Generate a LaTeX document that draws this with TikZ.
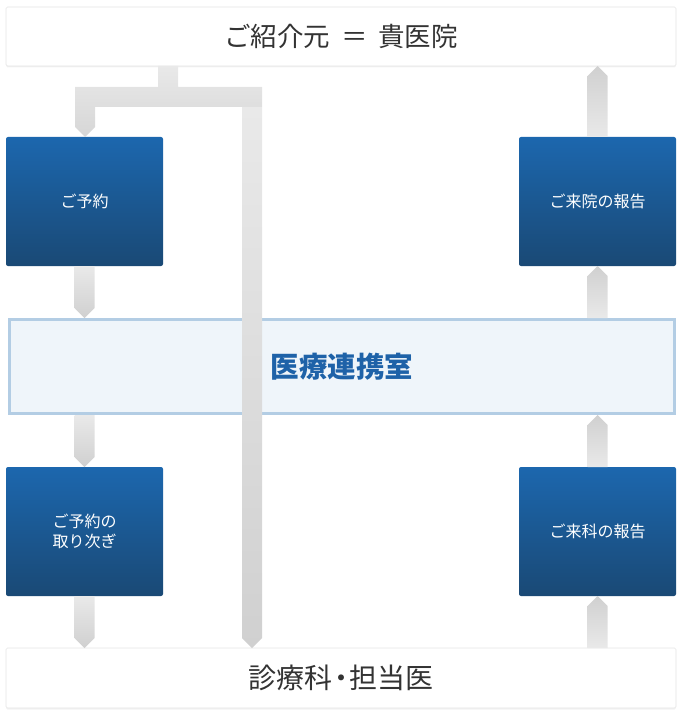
\documentclass[tikz,border=0pt]{standalone}
\usepackage{fontspec}
\newfontfamily\jp{Noto Sans CJK JP}
\usetikzlibrary{calc,shadows}
\definecolor{blueT}{HTML}{1C67AE}
\definecolor{blueB}{HTML}{1A4975}
\definecolor{cenBorder}{HTML}{B3CDE4}
\definecolor{cenFill}{HTML}{EFF5FA}
\definecolor{cenText}{HTML}{1E62A8}
\definecolor{txt}{HTML}{333333}
\definecolor{arrLight}{HTML}{E9E9E9}
\definecolor{arrDark}{HTML}{D0D0D0}
\tikzset{
  whitebox/.style={draw=black!10, line width=0.6pt, fill=white, rounded corners=1.5pt,
    minimum width=670pt, inner sep=0, outer sep=0, text=txt,
    font=\jp\fontsize{26.5}{30}\selectfont,
    drop shadow={opacity=0.10, shadow xshift=0pt, shadow yshift=-1.5pt}},
  bluebox/.style={draw=none, top color=blueT, bottom color=blueB, rounded corners=2pt,
    minimum width=157pt, minimum height=129pt, inner sep=0, outer sep=0, text=white,
    align=center, font=\jp\fontsize{16}{20}\selectfont},
  centerbox/.style={draw=cenBorder, line width=3pt, fill=cenFill,
    minimum width=665pt, minimum height=94pt, inner sep=0, text=cenText,
    font=\jp\bfseries\fontsize{28.5}{32}\selectfont},
  downshade/.style={top color=arrLight, bottom color=arrDark, draw=none},
  upshade/.style={top color=arrDark, bottom color=arrLight, draw=none},
}
% down arrow: start point #1 (x taken from it), tip at y of #2
\newcommand\dnarr[2]{\path[downshade] let \p1=#1, \p2=#2 in
  (\x1-10pt,\y1) -- (\x1+10pt,\y1) -- (\x1+10pt,\y2+10pt) -- (\x1,\y2)
  -- (\x1-10pt,\y2+10pt) -- cycle;}
% up arrow: start point #1 (x taken from it), tip at y of #2
\newcommand\uparr[2]{\path[upshade] let \p1=#1, \p2=#2 in
  (\x1-10pt,\y1) -- (\x1+10pt,\y1) -- (\x1+10pt,\y2-10pt) -- (\x1,\y2)
  -- (\x1-10pt,\y2-10pt) -- cycle;}
\begin{document}
\begin{tikzpicture}[x=1pt,y=-1pt]
\useasboundingbox (0,0) rectangle (683,714);

% boxes
\node[whitebox, minimum height=59pt] (top) at (341,36.5) {ご紹介元\hspace{11pt}＝\hspace{11pt}貴医院};
\node[whitebox, minimum height=60pt, font=\jp\fontsize{28}{30}\selectfont] (bottom) at (341,678) {診療科\kern-0.2em・\kern-0.2em担当医};
\node[centerbox] (center) at (342,366.5) {医療連携室};

\node[bluebox] (yoyaku) at (84.5,201.5) {ご予約};
\node[bluebox] (toritsugi) at (84.5,531.5) {ご予約の\\取り次ぎ};
\node[bluebox] (raiin) at (597.5,201.5) {ご来院の報告};
\node[bluebox] (raika) at (597.5,531.5) {ご来科の報告};

% fork from top box
\path[top color=arrLight, bottom color=black!16, draw=none]
  let \p1=(top.south), \p2=(yoyaku.north) in
  (158,\y1) -- (178,\y1) -- (178,87) -- (262,87) -- (262,107) -- (95,107)
  -- (95,127) -- (85,\y2) -- (75,127) -- (75,87) -- (158,87) -- cycle;
\dnarr{(252,107)}{(bottom.north)}

% left column arrows
\dnarr{(yoyaku.south)}{(center.north)}
\dnarr{(center.south -| toritsugi.north)}{(toritsugi.north)}
\dnarr{(toritsugi.south)}{(bottom.north)}

% right column arrows
\uparr{(bottom.north -| raika.south)}{(raika.south)}
\uparr{(raika.north)}{(center.south)}
\uparr{(center.north -| raiin.south)}{(raiin.south)}
\uparr{(raiin.north)}{(top.south)}
\end{tikzpicture}
\end{document}
